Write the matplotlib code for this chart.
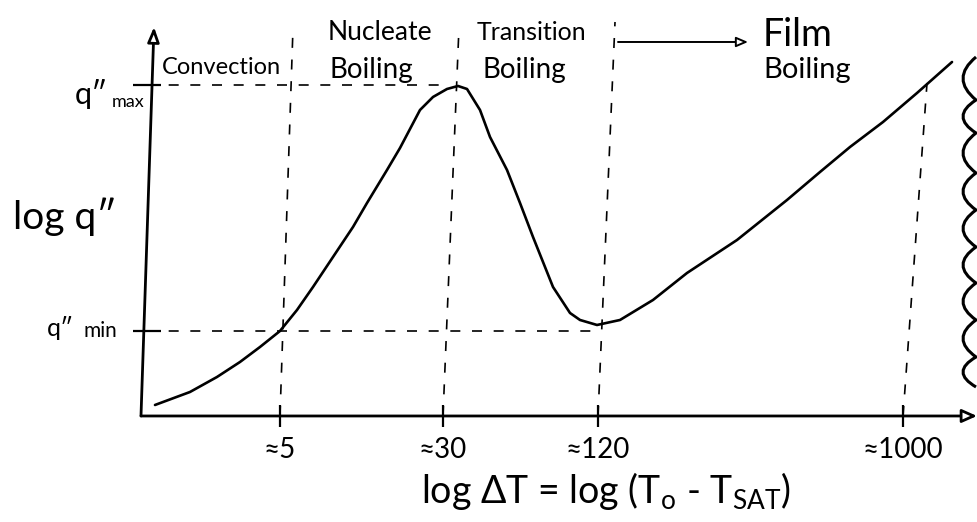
import matplotlib
matplotlib.use("Agg")
import matplotlib.pyplot as plt
from matplotlib.path import Path
from matplotlib.patches import PathPatch

plt.rcParams['font.family'] = ['Lato', 'DejaVu Sans']

# boiling curve, sketch units (x: log dT position, y: log q'' level)
curve_x = [0.08, 0.43, 0.70, 0.93, 1.13, 1.33, 1.50, 1.66, 1.86, 2.06, 2.20, 2.40,
           2.53, 2.73, 2.86, 3.00, 3.11, 3.20, 3.33, 3.43, 3.60, 3.73, 3.86, 4.06,
           4.23, 4.33, 4.50, 4.73, 5.06, 5.40, 5.90, 6.40, 6.73, 7.03, 7.36, 7.70, 8.05]
curve_y = [0.11, 0.24, 0.39, 0.54, 0.69, 0.85, 1.06, 1.29, 1.59, 1.89, 2.13, 2.46,
           2.68, 3.06, 3.19, 3.27, 3.30, 3.27, 3.06, 2.79, 2.46, 2.13, 1.79, 1.29,
           1.03, 0.96, 0.91, 0.96, 1.16, 1.43, 1.76, 2.16, 2.44, 2.69, 2.94, 3.23, 3.54]

q_max = 3.31
q_min = 0.85

# regime boundaries (hand drawn, slightly slanted)
tick_pos = [1.33, 2.96, 4.51, 7.56]
tick_labels = ["≈5", "≈30", "≈120", "≈1000"]
bound_top_x = [1.46, 3.12, 4.68, 7.80]
bound_top_y = [3.88, 3.89, 3.94, 3.33]

# wavy edge on the right (cusp heights)
wave_y = [3.59, 3.16, 2.83, 2.43, 2.06, 1.69, 1.33, 0.96, 0.59, 0.29]

fig = plt.figure(figsize=(9.78, 5.22), dpi=100)
ax = fig.add_axes([0.1503, 0.2031, 0.8487, 0.7452])
ax.set_xlim(0, 8.30)
ax.set_ylim(0, 3.89)
for s in ax.spines.values():
    s.set_visible(False)

ink = "black"
dash = dict(color=ink, lw=1.2, ls=(0, (6, 7)), clip_on=False)

# axes drawn by hand
ax.annotate("", xy=(8.30, 0.0), xytext=(-0.06, 0.0),
            arrowprops=dict(arrowstyle="-|>,head_length=0.9,head_width=0.4",
                            lw=2.0, color=ink, fc="white", shrinkA=0, shrinkB=0),
            annotation_clip=False)
ax.annotate("", xy=(0.07, 3.89), xytext=(-0.06, 0.0),
            arrowprops=dict(arrowstyle="-|>,head_length=0.9,head_width=0.35",
                            lw=2.0, color=ink, fc="white", shrinkA=0, shrinkB=0),
            annotation_clip=False)

ax.set_xticks(tick_pos)
ax.set_xticklabels(tick_labels, fontsize=20)
ax.set_yticks([q_min, q_max])
ax.set_yticklabels([])
ax.tick_params(axis="x", direction="inout", length=16, width=1.6, pad=7)
ax.tick_params(axis="y", direction="inout", length=20, width=1.6)

# dashed guides
ax.plot([0.0, 3.00], [q_max, q_max], **dash)
ax.plot([0.0, 4.50], [q_min, q_min], **dash)
for xb, xt, yt in zip(tick_pos, bound_top_x, bound_top_y):
    ax.plot([xb, xt], [0, yt], **dash)

# boiling curve
ax.plot(curve_x, curve_y, color=ink, lw=1.9, solid_capstyle="round",
        solid_joinstyle="round")

# wavy edge
verts = [(8.29, wave_y[0])]
codes = [Path.MOVETO]
for y0, y1 in zip(wave_y[:-1], wave_y[1:]):
    verts += [(8.03, (y0 + y1) / 2), (8.29, y1)]
    codes += [Path.CURVE3, Path.CURVE3]
ax.add_patch(PathPatch(Path(verts, codes), fill=False, lw=2.2, ec=ink, clip_on=False))

# regime labels
ax.text(0.15, 3.48, "Convection", fontsize=17, va="center", ha="left")
ax.text(1.81, 3.83, "Nucleate", fontsize=19, va="center", ha="left")
ax.text(1.83, 3.46, "Boiling", fontsize=20, va="center", ha="left")
ax.text(3.30, 3.83, "Transition", fontsize=18, va="center", ha="left")
ax.text(3.35, 3.46, "Boiling", fontsize=20, va="center", ha="left")
ax.text(6.16, 3.81, "Film", fontsize=27, va="center", ha="left")
ax.text(6.16, 3.46, "Boiling", fontsize=21, va="center", ha="left")
ax.annotate("", xy=(6.01, 3.74), xytext=(4.71, 3.74),
            arrowprops=dict(arrowstyle="-|>,head_length=0.7,head_width=0.3",
                            lw=1.4, color=ink, fc="white", shrinkA=0, shrinkB=0),
            annotation_clip=False)

# y labels
ax.text(-0.82, 1.99, "log q\u2033", fontsize=28, va="center", ha="center")
ax.text(-0.56, 3.22, "q\u2033", fontsize=22, va="center", ha="center")
ax.text(-0.02, 3.14, "max", fontsize=13, va="center", ha="right")
ax.text(-0.87, 0.88, "q\u2033", fontsize=18, va="center", ha="center")
ax.text(-0.47, 0.85, "min", fontsize=15, va="center", ha="center")

# x label
ax.text(4.59, -0.75, r"log ΔT = log (T$_\mathregular{o}$ - T$_\mathregular{SAT}$)",
        fontsize=27, va="center", ha="center")

fig.savefig("out.png", dpi=100)
